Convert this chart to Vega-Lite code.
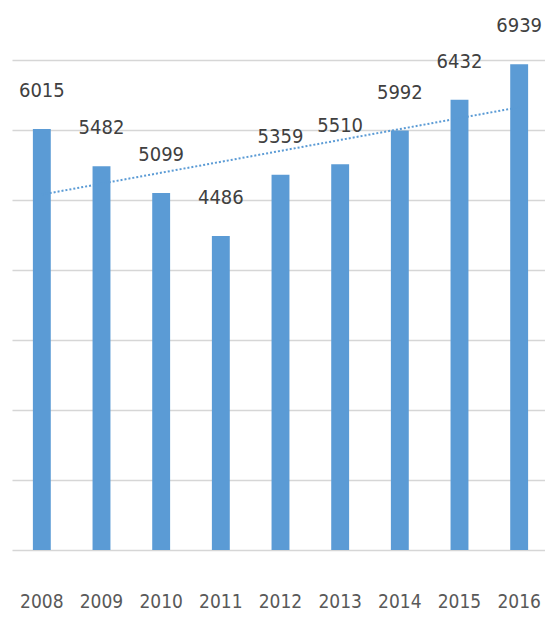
{
  "$schema": "https://vega.github.io/schema/vega-lite/v6.json",
  "autosize": {"type": "none"},
  "width": 537,
  "height": 490,
  "padding": {"left": 12, "top": 60, "right": 0, "bottom": 71},
  "background": "white",
  "config": {"view": {"stroke": null}},
  "data": {"values": [
    {"year": 2008, "value": 6015},
    {"year": 2009, "value": 5482},
    {"year": 2010, "value": 5099},
    {"year": 2011, "value": 4486},
    {"year": 2012, "value": 5359},
    {"year": 2013, "value": 5510},
    {"year": 2014, "value": 5992},
    {"year": 2015, "value": 6432},
    {"year": 2016, "value": 6939}
  ]},
  "encoding": {
    "x": {
      "field": "year", "type": "ordinal",
      "scale": {"paddingInner": 0.7, "paddingOuter": 0.35},
      "axis": {
        "title": null, "labelAngle": 0, "domain": false, "ticks": false,
        "labelPadding": 42, "labelFont": "'DejaVu Sans Condensed', 'Liberation Sans Narrow', 'Liberation Sans'", "labelFontSize": 19,
        "labelColor": "#595959", "labelBaseline": "top"
      }
    },
    "y": {
      "field": "value", "type": "quantitative",
      "scale": {"domain": [0, 7000], "nice": false},
      "axis": {
        "title": null, "labels": false, "ticks": false, "domain": false,
        "values": [0, 1000, 2000, 3000, 4000, 5000, 6000, 7000],
        "gridColor": "#d6d6d6", "gridWidth": 1.6
      }
    }
  },
  "layer": [
    {"mark": {"type": "bar", "color": "#5b9bd5"}},
    {
      "transform": [{"regression": "value", "on": "year"}],
      "mark": {"type": "line", "color": "#5b9bd5", "strokeWidth": 2, "strokeDash": [2, 2]}
    },
    {
      "mark": {"type": "text", "baseline": "bottom", "dy": -28, "font": "'DejaVu Sans Condensed', 'Liberation Sans Narrow', 'Liberation Sans'", "fontSize": 20, "color": "#404040"},
      "encoding": {"text": {"field": "value", "type": "quantitative", "format": "d"}}
    }
  ]
}
